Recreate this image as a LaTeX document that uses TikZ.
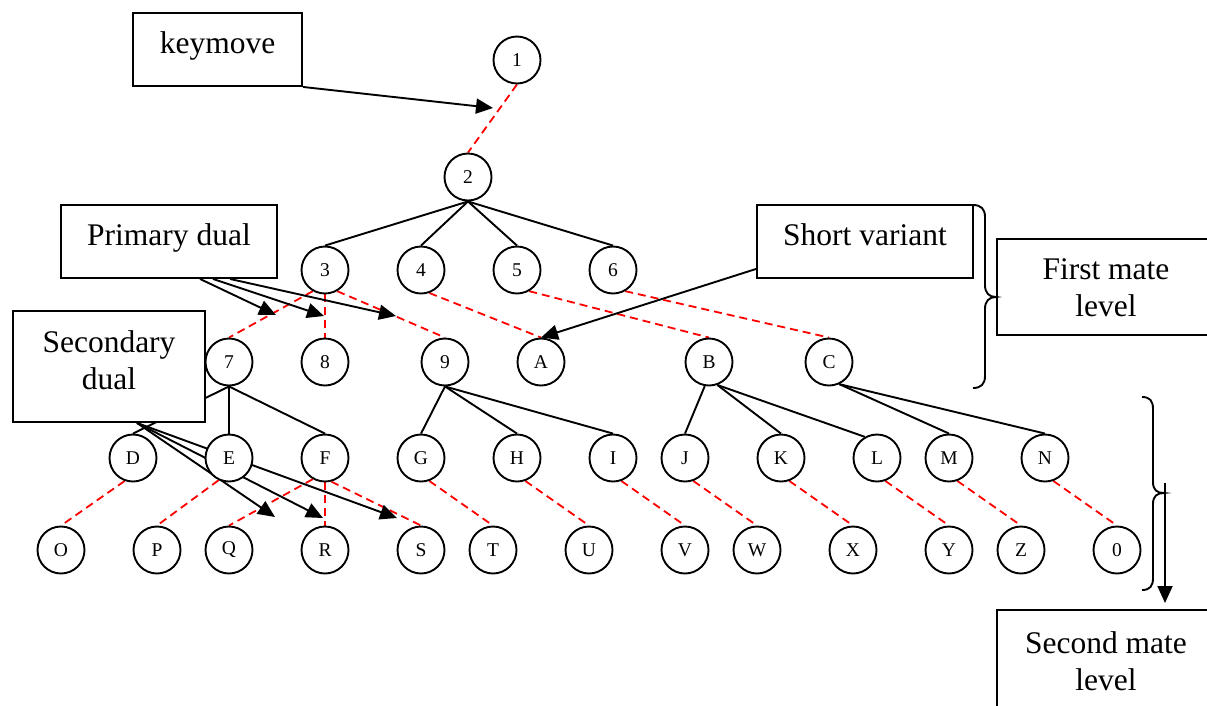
\documentclass[tikz,border=0pt]{standalone}
\usepackage{fontspec}
\setmainfont{Liberation Serif}
\usetikzlibrary{arrows.meta,backgrounds}
\newcommand\mycircfont{\fontsize{19.5}{22}\selectfont}
\newcommand\myboxfont{\fontsize{31.5}{37}\selectfont}
\newcommand\boxtxt[4]{\begin{minipage}[c][#2pt][t]{#1pt}\centering\rule{0pt}{#3pt}#4\end{minipage}}
\begin{document}
\begin{tikzpicture}[x=1pt,y=-1pt,
  circ/.style={circle,draw,line width=1.9pt,fill=white,minimum size=47pt,inner sep=0pt,font=\mycircfont},
  lbox/.style={rectangle,draw,line width=1.9pt,fill=white,inner sep=0pt,font=\myboxfont},
  tedge/.style={line width=1.9pt},
  rdash/.style={draw=red,line width=1.8pt,dash pattern=on 8pt off 5pt},
  arr/.style={line width=1.9pt,-{Triangle[length=17pt,width=15pt]}},
  brc/.style={line width=1.9pt}]
\useasboundingbox (0,0) rectangle (1207,705);
\clip (0,0) rectangle (1207,705);
% boxes
\node[lbox] (km) at (217.5,49.5) {\boxtxt{169}{73}{40}{keymove}};
\node[lbox] (pd) at (169,241.5) {\boxtxt{216}{73}{40}{Primary dual}};
\node[lbox] (sd) at (109,366.5) {\boxtxt{192}{111}{41}{Secondary\\dual}};
\node[lbox] (sv) at (865,241.5) {\boxtxt{216}{73}{40}{Short variant}};
\node[lbox] (fm) at (1121,287) {\boxtxt{218}{96}{40}{First mate\\level}\rule{30pt}{0pt}};
\node[lbox] (sm) at (1121,668) {\boxtxt{218}{116}{43}{Second mate\\level}\rule{30pt}{0pt}};
% circles
\node[circ] (n1) at (517,60) {1};
\node[circ] (n2) at (468,177) {2};
\node[circ] (n3) at (325,270) {3};
\node[circ] (n4) at (421,270) {4};
\node[circ] (n5) at (517,270) {5};
\node[circ] (n6) at (613,270) {6};
\node[circ] (n7) at (229,362) {7};
\node[circ] (n8) at (325,362) {8};
\node[circ] (n9) at (445,362) {9};
\node[circ] (nA) at (541,362) {A};
\node[circ] (nB) at (709,362) {B};
\node[circ] (nC) at (829,362) {C};
\node[circ] (nD) at (133,458) {D};
\node[circ] (nE) at (229,458) {E};
\node[circ] (nF) at (325,458) {F};
\node[circ] (nG) at (421,458) {G};
\node[circ] (nH) at (517,458) {H};
\node[circ] (nI) at (613,458) {I};
\node[circ] (nJ) at (685,458) {J};
\node[circ] (nK) at (781,458) {K};
\node[circ] (nL) at (877,458) {L};
\node[circ] (nM) at (949,458) {M};
\node[circ] (nN) at (1045,458) {N};
\node[circ] (nO) at (61,550) {O};
\node[circ] (nP) at (157,550) {P};
\node[circ] (nQ) at (229,550) {Q};
\node[circ] (nR) at (325,550) {R};
\node[circ] (nS) at (421,550) {S};
\node[circ] (nT) at (493,550) {T};
\node[circ] (nU) at (589,550) {U};
\node[circ] (nV) at (685,550) {V};
\node[circ] (nW) at (757,550) {W};
\node[circ] (nX) at (853,550) {X};
\node[circ] (nY) at (949,550) {Y};
\node[circ] (nZ) at (1021,550) {Z};
\node[circ] (n0) at (1117,550) {0};
% free ends
\coordinate (kmt) at (493,108);
\coordinate (pt1) at (276,315);
\coordinate (pt2) at (324,316);
\coordinate (pt3) at (396,316);
\coordinate (st1) at (275,517);
\coordinate (st2) at (323,518);
\coordinate (st3) at (397,518);
\coordinate (b2tip) at (1165,483);
\coordinate (b2end) at (1165,603);
\begin{pgfonlayer}{background}
% tree edges
\foreach \c in {n3,n4,n5,n6} \draw[tedge] (n2.south) -- (\c.north);
\foreach \c in {nD,nE,nF} \draw[tedge] (n7.south) -- (\c.north);
\foreach \c in {nG,nH,nI} \draw[tedge] (n9.south) -- (\c.north);
\draw[tedge] (nB.-100) -- (nJ.north);
\draw[tedge] (nB.-70) -- (nK.north);
\draw[tedge] (nB.-70) -- (nL.120);
\draw[tedge] (nC.-65) -- (nM.north);
\draw[tedge] (nC.-65) -- (nN.north);
% red dashed
\draw[rdash] (n1.south) -- (n2.north);
\draw[rdash] (n3.-120) -- (n7.north);
\draw[rdash] (n3.south) -- (n8.north);
\draw[rdash] (n3.-60) -- (n9.north);
\draw[rdash] (n4.-70) -- (nA.north);
\draw[rdash] (n5.-60) -- (nB.north);
\draw[rdash] (n6.-60) -- (nC.north);
\draw[rdash] (nD.-110) -- (nO.north);
\draw[rdash] (nE.-115) -- (nP.north);
\draw[rdash] (nF.-120) -- (nQ.north);
\draw[rdash] (nF.south) -- (nR.north);
\draw[rdash] (nF.-75) -- (nS.north);
\foreach \p/\c in {nG/nT,nH/nU,nI/nV,nJ/nW,nK/nX,nL/nY,nM/nZ,nN/n0}
  \draw[rdash] (\p.-70) -- (\c.north);
% arrows
\draw[arr] (km.south east) -- (kmt);
\draw[arr] ([xshift=31pt]pd.south) -- (pt1);
\draw[arr] ([xshift=44pt]pd.south) -- (pt2);
\draw[arr] ([xshift=61pt]pd.south) -- (pt3);
\draw[arr] ([xshift=28pt]sd.south) -- (st1);
\draw[arr] ([xshift=28pt]sd.south) -- (st2);
\draw[arr] ([xshift=28pt]sd.south) -- (st3);
\draw[arr] ([yshift=10pt]sv.south west) -- (nA.north);
\draw[arr] (b2tip) -- (b2end);
\end{pgfonlayer}
% braces
\draw[brc] (973,205) .. controls (981,205) and (985,209) .. (985,217) -- (985,285)
  .. controls (985,293) and (989,297) .. (996,297)
  .. controls (989,297) and (985,301) .. (985,309) -- (985,376)
  .. controls (985,384) and (981,388) .. (973,388);
\draw[brc] (1142,397) .. controls (1150,397) and (1153,401) .. (1153,409) -- (1153,482)
  .. controls (1153,490) and (1157,493) .. (1164,493)
  .. controls (1157,493) and (1153,496) .. (1153,504) -- (1153,578)
  .. controls (1153,586) and (1150,590) .. (1142,590);
\end{tikzpicture}
\end{document}
